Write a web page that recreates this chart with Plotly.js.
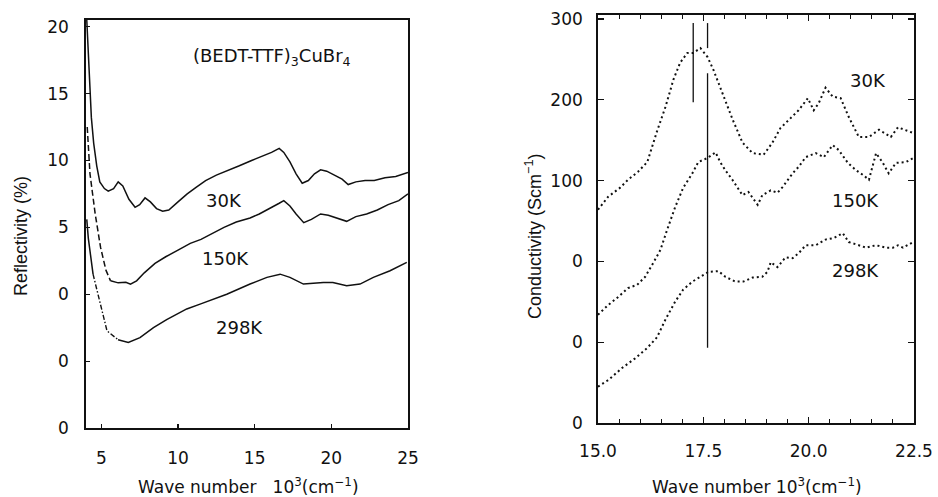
<!DOCTYPE html>
<html><head><meta charset="utf-8">
<script src="https://cdn.plot.ly/plotly-3.0.1.min.js"></script>
<style>html,body{margin:0;padding:0;background:#fff}#chart{width:938px;height:497px}</style>
</head><body><div id="chart"></div>
<script>
// ---------- Left panel: reflectivity (offset curves) ----------
const refl30K_x = [4.05,4.12,4.18,4.25,4.35,4.5,4.7,4.9,5.2,5.45,5.8,6.1,6.4,6.8,7.2,7.5,7.85,8.2,8.6,9.0,9.4,10,10.6,11.2,11.8,12.5,13.2,14,14.8,15.5,16.1,16.6,16.9,17.3,17.7,18.1,18.5,18.9,19.3,19.7,20.2,20.7,21.1,21.6,22.2,22.8,23.5,24.2,25];
const refl30K_y = [20.5,18.5,17.5,15.2,13.2,11.3,9.6,8.4,7.9,7.7,7.9,8.4,8.1,7.1,6.5,6.7,7.2,6.9,6.4,6.2,6.3,6.9,7.5,8.0,8.5,8.9,9.2,9.6,10.0,10.3,10.6,10.9,10.6,9.9,9.0,8.3,8.5,9.0,9.3,9.2,8.9,8.6,8.2,8.4,8.5,8.5,8.7,8.8,9.1];
const refl150K_x = [4.08,4.26,4.6,4.95,5.3,5.6,6.1,6.6,6.9,7.3,7.8,8.5,9.2,10,10.8,11.5,12.3,13,13.8,14.7,15.3,16.0,16.6,16.9,17.3,17.7,18.2,18.7,19.3,19.8,20.4,21.0,21.6,22.3,23.0,23.7,24.4,25];
const refl150K_y = [12.5,9.0,6.0,3.5,1.8,1.0,0.85,0.9,0.75,1.0,1.6,2.3,2.8,3.3,3.8,4.1,4.6,5.0,5.4,5.7,6.0,6.4,6.8,7.0,6.6,6.0,5.35,5.6,6.0,5.9,5.7,5.45,5.8,6.0,6.3,6.7,7.0,7.5];
const refl298K_x = [4.05,4.15,4.46,4.72,5.37,6.09,6.76,7.52,8.4,9.26,10.57,11.44,13.18,14.7,15.8,16.66,17.3,18.18,19.48,20.1,21.0,21.87,22.74,23.83,24.92];
const refl298K_y = [5.6,4.2,1.5,0.26,-2.74,-3.4,-3.6,-3.24,-2.5,-1.9,-1.1,-0.74,0.0,0.76,1.26,1.5,1.26,0.76,0.88,0.88,0.64,0.76,1.26,1.76,2.38];
const leftYTickVals = [-10,-5,0,5,10,15,20];
const leftYTickText = ['0','0','0','5','10','15','20'];
const leftXTickVals = [5,10,15,20,25];
const leftLabels = ['30K','150K','298K'];

// ---------- Right panel: conductivity (offset curves) ----------
const cond30K_x = [15.0,15.24,15.52,15.71,15.95,16.17,16.4,16.6,16.79,16.95,17.12,17.26,17.43,17.6,17.74,17.95,18.2,18.43,18.67,18.93,19.14,19.33,19.52,19.76,19.98,20.12,20.24,20.4,20.57,20.76,20.95,21.19,21.43,21.67,21.95,22.12,22.48];
const cond30K_y = [64,80,91,101,111,123,161,191,225,246,258,258,264,253,237,208,175,147,134,132,147,165,175,187,202,187,196,215,204,202,179,154,154,163,154,166,159];
const cond150K_x = [15.0,15.24,15.48,15.71,15.93,16.12,16.31,16.48,16.64,16.83,17.02,17.24,17.38,17.6,17.79,17.9,18.02,18.19,18.43,18.57,18.79,18.9,19.1,19.26,19.38,19.62,19.76,19.93,20.17,20.36,20.57,20.71,20.93,21.12,21.29,21.43,21.6,21.76,21.9,22.07,22.31,22.48];
const cond150K_y = [-66,-54,-44,-33,-29,-19,-2,14,39,67,91,109,123,128,135,123,113,101,82,86,70,82,88,85,92,109,117,129,134,129,144,138,122,113,107,101,134,122,109,122,123,128];
const cond298K_x = [15.0,15.24,15.57,15.88,16.17,16.4,16.6,16.83,17.02,17.24,17.43,17.62,17.86,18.02,18.26,18.45,18.67,18.9,19.02,19.1,19.26,19.45,19.62,19.76,19.93,20.17,20.4,20.6,20.81,20.95,21.19,21.36,21.6,21.83,22.0,22.12,22.24,22.48];
const cond298K_y = [-155,-147,-132,-120,-107,-94,-72,-50,-35,-25,-19,-13,-12,-19,-25,-25,-20,-19,-13,-1,-7,5,4,10,20,20,27,29,35,24,20,17,20,17,17,20,17,24];
const peakLineX = [17.26,17.6,17.6];
const peakLineTop = [295,295,233];
const peakLineBottom = [197,264,-107];
const rightYTickVals = [-200,-100,0,100,200,300];
const rightYTickText = ['0','0','0','100','200','300'];
const rightXTickVals = [15,17.5,20,22.5];
const rightXTickText = ['15.0','17.5','20.0','22.5'];
const rightLabels = ['30K','150K','298K'];

const BLACK = '#111';
const tickFont = {family:'DejaVu Sans, sans-serif', size:17, color:BLACK};
const labelFont = {family:'DejaVu Sans, sans-serif', size:18, color:BLACK};
const rotFont = {family:'Liberation Sans, Arial, sans-serif', size:18, color:BLACK};
const titleFont = {family:'DejaVu Sans, sans-serif', size:17, color:BLACK};

const traces = [];
function addLeft(xs, ys, dash, width){
  traces.push({x:xs, y:ys, xaxis:'x', yaxis:'y', mode:'lines', line:{color:BLACK,width:width||1.5,dash:dash||'solid'}, hoverinfo:'skip'});
}
addLeft(refl30K_x, refl30K_y);
addLeft(refl150K_x.slice(0,6), refl150K_y.slice(0,6), '6px,3px');
addLeft(refl150K_x.slice(5), refl150K_y.slice(5));
addLeft(refl298K_x.slice(0,3), refl298K_y.slice(0,3));
addLeft(refl298K_x.slice(2,6), refl298K_y.slice(2,6), '5px,2px,1.5px,2px', 1.4);
addLeft(refl298K_x.slice(5), refl298K_y.slice(5));

[[cond30K_x,cond30K_y],[cond150K_x,cond150K_y],[cond298K_x,cond298K_y]].forEach(([xs,ys])=>{
  traces.push({x:xs, y:ys, xaxis:'x2', yaxis:'y2', mode:'lines', line:{color:BLACK,width:2,dash:'2px,3px'}, hoverinfo:'skip'});
});
const vx=[], vy=[];
peakLineX.forEach((x,i)=>{ vx.push(x,x,null); vy.push(peakLineTop[i],peakLineBottom[i],null); });
traces.push({x:vx, y:vy, xaxis:'x2', yaxis:'y2', mode:'lines', line:{color:BLACK,width:1.3}, hoverinfo:'skip'});

const leftLabelPos = [[13.0,7.0],[13.1,2.7],[14.0,-2.5]];
const rightLabelPos = [[21.4,224],[21.1,76],[21.1,-11]];
const annotations = [];
leftLabels.forEach((t,i)=>annotations.push({x:leftLabelPos[i][0], y:leftLabelPos[i][1], xref:'x', yref:'y', text:t, showarrow:false, font:labelFont}));
rightLabels.forEach((t,i)=>annotations.push({x:rightLabelPos[i][0], y:rightLabelPos[i][1], xref:'x2', yref:'y2', text:t, showarrow:false, font:labelFont}));
annotations.push({x:16.1, y:17.7, xref:'x', yref:'y', text:'(BEDT-TTF)<sub>3</sub>CuBr<sub>4</sub>', showarrow:false, font:labelFont});
annotations.push({x:21/938, y:1-236/497, xref:'paper', yref:'paper', xanchor:'center', yanchor:'middle', text:'Reflectivity (%)', textangle:-90, showarrow:false, font:rotFont});
annotations.push({x:533/938, y:1-237/497, xref:'paper', yref:'paper', xanchor:'center', yanchor:'middle', text:'Conductivity (Scm<sup>−1</sup>)', textangle:-90, showarrow:false, font:rotFont});
annotations.push({x:249/938, y:1-486/497, xref:'paper', yref:'paper', xanchor:'center', yanchor:'middle', text:'Wave number   10<sup>3</sup>(cm<sup>−1</sup>)', showarrow:false, font:titleFont});
annotations.push({x:757/938, y:1-486/497, xref:'paper', yref:'paper', xanchor:'center', yanchor:'middle', text:'Wave number 10<sup>3</sup>(cm<sup>−1</sup>)', showarrow:false, font:titleFont});

const axBase = {showgrid:false, zeroline:false, showline:true, linecolor:BLACK, linewidth:1.8, mirror:true, ticks:'inside', tickcolor:BLACK, tickwidth:1.2, tickfont:tickFont, fixedrange:true};
const layout = {
  width:938, height:497, margin:{l:0,r:0,t:0,b:0}, paper_bgcolor:'#fff', plot_bgcolor:'#fff', showlegend:false,
  xaxis: Object.assign({}, axBase, {domain:[86/938,408/938], range:[4,25], tickmode:'array', tickvals:leftXTickVals, ticklen:4, ticklabelstandoff:14, anchor:'y'}),
  yaxis: Object.assign({}, axBase, {domain:[1-428/497,1-20/497], range:[-10,20.5], tickmode:'array', tickvals:leftYTickVals, ticktext:leftYTickText, ticklen:4, ticklabelstandoff:12, anchor:'x'}),
  xaxis2: Object.assign({}, axBase, {domain:[598/938,914/938], range:[15,22.5], tickmode:'array', tickvals:rightXTickVals, ticktext:rightXTickText, ticklen:6, ticklabelstandoff:12, mirror:'allticks', minor:{dtick:0.5, tick0:15, ticks:'inside', ticklen:4, tickcolor:BLACK, tickwidth:1.1}, anchor:'y2'}),
  yaxis2: Object.assign({}, axBase, {domain:[1-423/497,1-15/497], range:[-200,305], tickmode:'array', tickvals:rightYTickVals, ticktext:rightYTickText, ticklen:6, ticklabelstandoff:10, mirror:'allticks', anchor:'x2'}),
  annotations: annotations
};
Plotly.newPlot('chart', traces, layout, {staticPlot:true});
</script></body></html>
